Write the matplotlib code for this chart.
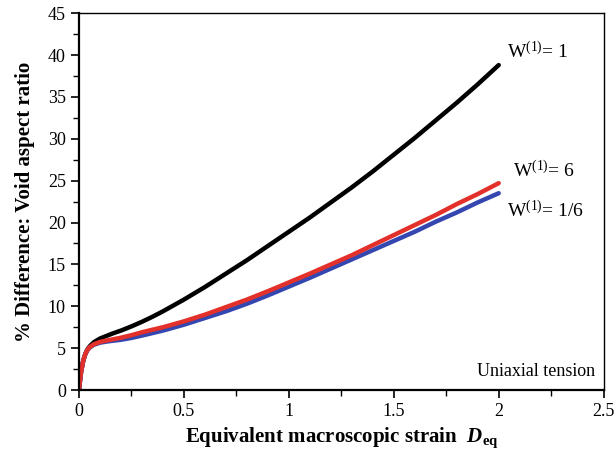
import matplotlib
matplotlib.use("Agg")
import matplotlib.pyplot as plt
from matplotlib.ticker import MultipleLocator

plt.rcParams['font.family'] = ['Liberation Serif', 'DejaVu Serif']
plt.rcParams['mathtext.fontset'] = 'custom'
plt.rcParams['mathtext.rm'] = 'Liberation Serif'
plt.rcParams['mathtext.it'] = 'Liberation Serif:italic'
plt.rcParams['mathtext.bf'] = 'Liberation Serif:bold'
plt.rcParams['mathtext.bfit'] = 'Liberation Serif:bold:italic'

# strain values shared by the three curves
strain = [0, 0.005, 0.01, 0.02, 0.03, 0.04, 0.05, 0.07, 0.1, 0.13, 0.16, 0.2, 0.25,
          0.3, 0.35, 0.4, 0.45, 0.5, 0.6, 0.7, 0.8, 0.9, 1.0, 1.1, 1.2, 1.3, 1.4, 1.5,
          1.6, 1.7, 1.8, 1.9, 2.0]
w_1 = [0, 1.2, 2.2, 3.5, 4.3, 4.85, 5.2, 5.7, 6.15, 6.45, 6.75, 7.1, 7.6,
       8.15, 8.75, 9.4, 10.1, 10.8, 12.3, 13.9, 15.5, 17.2, 18.9, 20.6, 22.4, 24.2, 26.1, 28.1,
       30.1, 32.2, 34.3, 36.5, 38.8]
w_6 = [0, 1.2, 2.2, 3.5, 4.3, 4.8, 5.1, 5.45, 5.75, 5.9, 6.05, 6.25, 6.55,
       6.9, 7.2, 7.5, 7.85, 8.2, 9.0, 9.9, 10.8, 11.8, 12.85, 13.9, 15.0, 16.1, 17.3, 18.5,
       19.7, 20.9, 22.2, 23.4, 24.7]
w_16 = [0, 1.2, 2.2, 3.5, 4.3, 4.75, 5.05, 5.4, 5.65, 5.78, 5.88, 6.0, 6.22,
        6.5, 6.8, 7.1, 7.45, 7.8, 8.6, 9.4, 10.3, 11.3, 12.35, 13.4, 14.5, 15.6, 16.7, 17.8,
        18.9, 20.1, 21.2, 22.4, 23.5]

fig = plt.figure(figsize=(6.15, 4.53), dpi=100)
ax = fig.add_axes([0.1285, 0.139, 0.853, 0.832])

ax.plot(strain, w_1, color='black', lw=3.2, solid_capstyle='round')
ax.plot(strain, w_16, color='#3446b0', lw=3.2, solid_capstyle='round')
ax.plot(strain, w_6, color='#e3302a', lw=3.2, solid_capstyle='round')

ax.set_xlim(0, 2.5)
ax.set_ylim(0, 45)
ax.set_xticks([0, 0.5, 1, 1.5, 2, 2.5])
ax.set_xticklabels(['0', '0.5', '1', '1.5', '2', '2.5'])
ax.xaxis.set_minor_locator(MultipleLocator(0.25))
ax.yaxis.set_major_locator(MultipleLocator(5))
ax.yaxis.set_minor_locator(MultipleLocator(2.5))
ax.tick_params(which='major', direction='out', length=6, width=1.2, labelsize=13)
ax.tick_params(which='minor', direction='out', length=4, width=1.0)
ax.tick_params(top=False, right=False)
for s in ['left', 'bottom']:
    ax.spines[s].set_linewidth(1.6)
for s in ['top', 'right']:
    ax.spines[s].set_linewidth(1.0)

ax.set_xlabel(r'Equivalent macroscopic strain  $\mathbfit{D}_{\mathbf{eq}}$',
              fontsize=15, fontweight='bold', labelpad=4)
ax.set_ylabel('% Difference: Void aspect ratio', fontsize=15, fontweight='bold', labelpad=9)

ax.text(2.04, 39.6, r'W$^{(1)}$= 1', fontsize=14)
ax.text(2.07, 25.4, r'W$^{(1)}$= 6', fontsize=14)
ax.text(2.04, 20.6, r'W$^{(1)}$= 1/6', fontsize=14)
ax.text(2.46, 1.7, 'Uniaxial tension', fontsize=13, ha='right')

fig.savefig('out.png', dpi=100)
